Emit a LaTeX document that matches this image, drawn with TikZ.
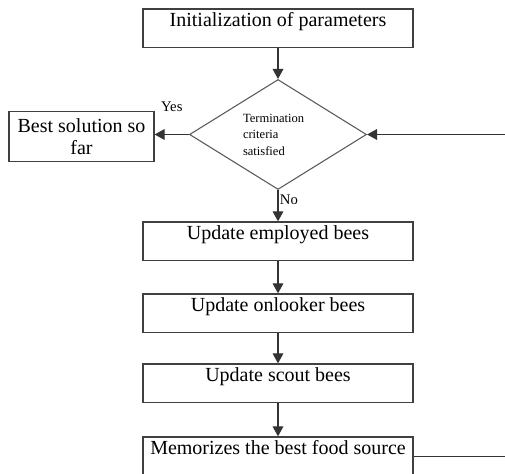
\documentclass[tikz,border=0pt]{standalone}
\usepackage{fontspec}
\setmainfont{Liberation Serif}
\usetikzlibrary{arrows.meta,shapes.geometric}

\tikzset{
  stepbox/.style={draw=black!75, line width=0.9pt, minimum width=202.5pt,
    inner ysep=0pt, text height=13.5pt, text depth=15.5pt,
    font=\fontsize{15}{16.5}\selectfont},
  arr/.style={draw=black!80, line width=0.9pt, -{Triangle[length=7.5pt,width=8pt]}},
  lbl/.style={font=\fontsize{11}{13}\selectfont, inner sep=1pt},
}

\begin{document}
\begin{tikzpicture}[x=0.75pt,y=-0.75pt]
\path[use as bounding box, clip] (0,0) rectangle (505,473);

\node[stepbox] (init) at (278,28.3) {Initialization of parameters};

\node[diamond, aspect=1.6, draw=black!65, line width=0.8pt, minimum width=132.75pt,
  minimum height=82.5pt, inner sep=0pt, text width=52.5pt, align=left,
  font=\fontsize{9.4}{12.4}\selectfont] (term) at (278,134.5)
  {Termination\\criteria\\satisfied};

\node[draw=black!75, line width=0.9pt, minimum width=108.75pt,
  minimum height=37.5pt, align=center,
  font=\fontsize{15}{16.5}\selectfont] (best) at (81.5,136.5)
  {Best solution so\\far};

\node[stepbox] (emp) at (278,241.3) {Update employed bees};
\node[stepbox] (onl) at (278,313.3) {Update onlooker bees};
\node[stepbox] (scout) at (278,383.3) {Update scout bees};
\node[stepbox] (mem) at (278,456.3) {Memorizes the best food source};

\draw[arr] (init) -- (term);
\draw[arr] (term.west) -- node[lbl, above=15.5pt] (yes) {Yes} (term.west -| best.east);
\draw[arr] (term) -- node[lbl, pos=0.3, right] (no) {No} (emp);
\draw[arr] (emp) -- (onl);
\draw[arr] (onl) -- (scout);
\draw[arr] (scout) -- (mem);

% back to the test, runs off the right edge
\draw[arr] (mem.east) -- ++(120,0) |- (term.east);
\end{tikzpicture}
\end{document}
